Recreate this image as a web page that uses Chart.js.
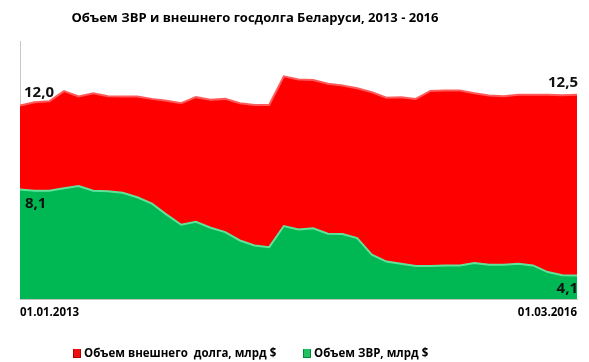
<!DOCTYPE html>
<html>
<head>
    <title>Объем ЗВР и внешнего госдолга Беларуси</title>
    <script src="https://cdn.jsdelivr.net/npm/chart.js"></script>
    <style>
        body { margin: 0; background: #fff; }
        #wrap { width: 589px; height: 362px; }
    </style>
</head>
<body>
    <div id="wrap"><canvas id="myChart" width="589" height="362"></canvas></div>

    <script>
        // monthly dates, 01.01.2013 - 01.03.2016
        var dates = [
            '01.01.2013', '01.02.2013', '01.03.2013', '01.04.2013', '01.05.2013', '01.06.2013',
            '01.07.2013', '01.08.2013', '01.09.2013', '01.10.2013', '01.11.2013', '01.12.2013',
            '01.01.2014', '01.02.2014', '01.03.2014', '01.04.2014', '01.05.2014', '01.06.2014',
            '01.07.2014', '01.08.2014', '01.09.2014', '01.10.2014', '01.11.2014', '01.12.2014',
            '01.01.2015', '01.02.2015', '01.03.2015', '01.04.2015', '01.05.2015', '01.06.2015',
            '01.07.2015', '01.08.2015', '01.09.2015', '01.10.2015', '01.11.2015', '01.12.2015',
            '01.01.2016', '01.02.2016', '01.03.2016'
        ];
        // external debt, bn $
        var debt = [
            12.0, 12.15, 12.2, 12.67, 12.42, 12.57, 12.43, 12.42, 12.42, 12.31, 12.22, 12.11,
            12.39, 12.27, 12.31, 12.11, 12.03, 12.03, 13.36, 13.21, 13.19, 13.01, 12.93, 12.8,
            12.62, 12.36, 12.39, 12.31, 12.68, 12.7, 12.7, 12.57, 12.47, 12.43, 12.5, 12.5,
            12.5, 12.48, 12.5
        ];
        // gold and currency reserves, bn $
        var reserves = [
            8.1, 8.04, 8.04, 8.16, 8.26, 8.04, 8.02, 7.95, 7.74, 7.44, 6.93, 6.46,
            6.6, 6.32, 6.12, 5.73, 5.5, 5.42, 6.4, 6.24, 6.3, 6.04, 6.03, 5.84,
            5.07, 4.75, 4.65, 4.54, 4.54, 4.57, 4.57, 4.68, 4.6, 4.6, 4.65, 4.57,
            4.26, 4.11, 4.1
        ];
        var seriesNames = ['Объем внешнего  долга, млрд $', 'Объем ЗВР, млрд $'];
        var title = 'Объем ЗВР и внешнего госдолга Беларуси, 2013 - 2016';

        var fontName = "'Open Sans', sans-serif";

        function fmt(v) {
            return v.toFixed(1).replace('.', ',');
        }

        // title, value labels at the ends and legend
        var extras = {
            id: 'extras',
            afterDraw: function(chart) {
                var c = chart.ctx;
                c.save();
                c.fillStyle = '#000';
                c.textBaseline = 'middle';
                c.font = 'bold 13px ' + fontName;
                c.textAlign = 'center';
                c.fillText(title, 255, 18);

                c.font = 'bold 15px ' + fontName;
                c.fillStyle = '#111';
                var red = chart.getDatasetMeta(0).data;
                var green = chart.getDatasetMeta(1).data;
                var n = red.length - 1;
                c.textAlign = 'left';
                c.fillText(fmt(debt[0]), red[0].x + 4, red[0].y - 13);
                c.fillText(fmt(reserves[0]), green[0].x + 5, green[0].y + 14);
                c.textAlign = 'right';
                c.fillText(fmt(debt[n]), red[n].x + 1, red[n].y - 12);
                c.fillText(fmt(reserves[n]), green[n].x + 1, green[n].y + 13);

                // legend
                var items = [
                    { x: 73, color: '#ee1111', edge: '#b00000' },
                    { x: 303, color: '#22c060', edge: '#008a3a' }
                ];
                c.font = 'bold 11.5px ' + fontName;
                c.textAlign = 'left';
                items.forEach(function(it, i) {
                    c.fillStyle = it.edge;
                    c.fillRect(it.x, 349, 8, 9);
                    c.fillStyle = it.color;
                    c.fillRect(it.x + 1, 349, 6, 8);
                    c.fillStyle = '#000';
                    c.fillText(seriesNames[i], it.x + 11, 354);
                });
                c.restore();
            }
        };

        var ctx = document.getElementById('myChart').getContext('2d');
        var myChart = new Chart(ctx, {
            type: 'line',
            data: {
                labels: dates,
                datasets: [
                    {
                        label: seriesNames[0],
                        data: debt,
                        backgroundColor: '#ff0000',
                        borderColor: '#ff5a5a',
                        borderWidth: 2,
                        pointRadius: 0,
                        fill: 'start',
                        order: 1
                    },
                    {
                        label: seriesNames[1],
                        data: reserves,
                        backgroundColor: '#00b853',
                        borderColor: '#5fe39a',
                        borderWidth: 2,
                        pointRadius: 0,
                        fill: 'start',
                        order: 0
                    }
                ]
            },
            options: {
                responsive: false,
                animation: false,
                layout: { padding: { top: 41, left: 20, right: 12, bottom: 35 } },
                plugins: {
                    legend: { display: false },
                    title: { display: false },
                    tooltip: { enabled: false }
                },
                scales: {
                    x: {
                        grid: { display: false, drawTicks: false },
                        border: { color: '#c8c8c8', width: 1 },
                        ticks: {
                            autoSkip: false,
                            maxRotation: 0,
                            align: 'inner',
                            padding: 7,
                            color: '#000',
                            font: { family: fontName, size: 11.5, weight: 'bold' },
                            callback: function(v, i) {
                                return (i === 0 || i === dates.length - 1) ? dates[i] : '';
                            }
                        }
                    },
                    y: {
                        min: 3,
                        max: 15,
                        grid: { display: false, drawTicks: false },
                        border: { color: '#c8c8c8', width: 1 },
                        ticks: { display: false }
                    }
                }
            },
            plugins: [extras]
        });
    </script>
</body>
</html>
